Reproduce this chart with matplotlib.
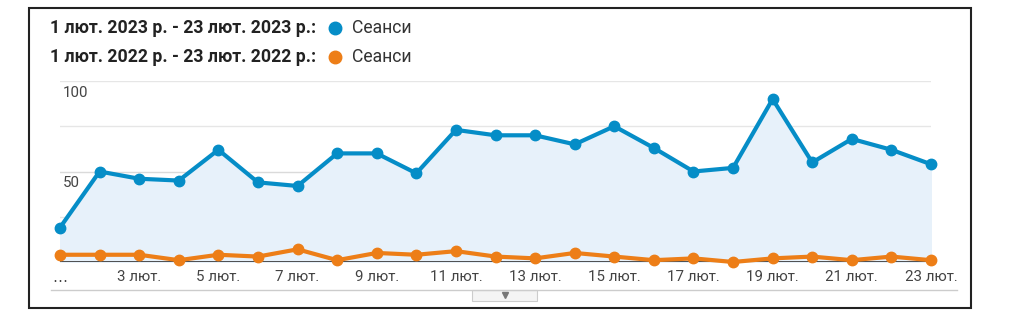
import matplotlib.pyplot as plt
from matplotlib.patches import Rectangle
from matplotlib.lines import Line2D

plt.rcParams['font.family'] = ['Roboto', 'DejaVu Sans']

# Daily sessions, 1-23 Feb
days = list(range(1, 24))
sessions_2023 = [19, 50, 46, 45, 62, 44, 42, 60, 60, 49, 73, 70, 70, 65, 75, 63, 50, 52, 90, 55, 68, 62, 54]
sessions_2022 = [4, 4, 4, 1, 4, 3, 7, 1, 5, 4, 6, 3, 2, 5, 3, 1, 2, 0, 2, 3, 1, 3, 1]
tick_days = days[::2]
tick_labels = ['…'] + [f'{d} лют.' for d in tick_days[1:]]
legend_labels = ['1 лют. 2023 р. - 23 лют. 2023 р.:', '1 лют. 2022 р. - 23 лют. 2022 р.:']
series_name = 'Сеанси'

blue = '#058DC7'
orange = '#ED7E17'

W, H = 1011, 328
fig = plt.figure(figsize=(W / 100, H / 100), dpi=100)

# outer frame
fig.add_artist(Rectangle((29 / W, 1 - 308 / H), 942 / W, 300 / H, transform=fig.transFigure,
                         fill=False, edgecolor='#222222', linewidth=1.5))

# legend lines
for i, (lab, col) in enumerate(zip(legend_labels, [blue, orange])):
    y = 1 - (28 + 29 * i) / H
    fig.text(50 / W, y, lab, fontsize=12.7, fontweight='bold', color='#222222', va='center', ha='left')
    fig.add_artist(Line2D([335 / W], [y], transform=fig.transFigure, marker='o', markersize=9,
                          color=col, linestyle='none'))
    fig.text(352 / W, y, series_name, fontsize=12.7, color='#333333', va='center', ha='left')

ax = fig.add_axes([60 / W, 1 - 262 / H, 871 / W, 181 / H])
x = [d - 1 for d in days]
ax.fill_between(x, sessions_2023, 0, color='#E7F1FA', zorder=1)
for yv in [25, 50, 75, 100]:
    ax.axhline(yv, color='#E6E6E6' if yv != 50 else '#DADADA', linewidth=1, zorder=0.5)
ax.plot(x, sessions_2023, color=blue, linewidth=3, marker='o', markersize=7.5, zorder=3, clip_on=False)
ax.plot(x, sessions_2022, color=orange, linewidth=3, marker='o', markersize=7.5, zorder=4, clip_on=False)
ax.axhline(0, color='#333333', linewidth=1.2, zorder=2)

ax.set_xlim(0, 22)
ax.set_ylim(0, 100)
ax.set_xticks([d - 1 for d in tick_days])
ax.set_xticklabels(tick_labels, fontsize=10.8, color='#444444')
ax.get_xticklabels()[0].set_family('DejaVu Sans')
ax.tick_params(axis='x', length=0, pad=6)
ax.set_yticks([])
for s in ax.spines.values():
    s.set_visible(False)
ax.patch.set_alpha(0)

for yv in [100, 50]:
    ax.annotate(str(yv), xy=(0, yv), xytext=(2, -3.5), textcoords='offset points',
                fontsize=10.8, color='#444444', va='top', ha='left')

# bottom separator and drawer handle
fig.add_artist(Line2D([51 / W, 957 / W], [1 - 290 / H] * 2, transform=fig.transFigure,
                      color='#CCCCCC', linewidth=1))
fig.add_artist(Rectangle((472 / W, 1 - 301 / H), 65 / W, 11 / H, transform=fig.transFigure,
                         facecolor='#F4F4F4', edgecolor='#CCCCCC', linewidth=0.8))
fig.add_artist(Line2D([505 / W], [1 - 295 / H], transform=fig.transFigure, marker='v',
                      markersize=5, color='#777777', linestyle='none'))

fig.savefig('out.png', dpi=100)
